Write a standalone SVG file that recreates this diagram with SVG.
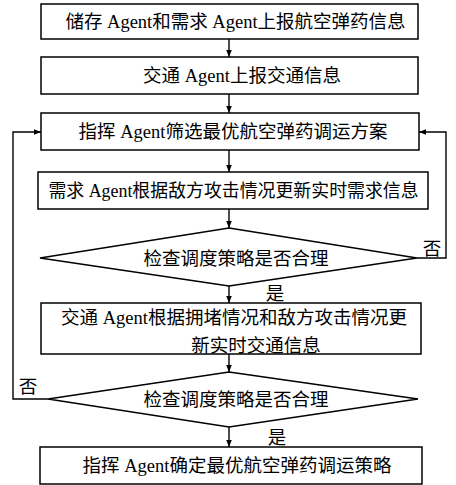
<svg xmlns="http://www.w3.org/2000/svg" width="456" height="485" viewBox="0 0 456 485">
<style>
.b{fill:#fff;stroke:#000;stroke-width:1.5}
.t{font-family:"Liberation Serif","Noto Sans CJK SC",serif;font-size:18.5px;fill:#000;text-anchor:middle}
.c{fill:none;stroke:#000;stroke-width:1.4}
</style>
<defs>
<marker id="ah" viewBox="0 0 10 10" refX="10" refY="5" markerWidth="7" markerHeight="7" markerUnits="userSpaceOnUse" orient="auto">
<path d="M0,1 L10,5 L0,9 Z" fill="#000"/>
</marker>
</defs>
<rect width="456" height="485" fill="#fff"/>
<g id="connectors">
<line class="c" x1="229" y1="39" x2="229" y2="57" marker-end="url(#ah)"/>
<line class="c" x1="229" y1="94" x2="229" y2="113" marker-end="url(#ah)"/>
<line class="c" x1="229" y1="150" x2="229" y2="172" marker-end="url(#ah)"/>
<line class="c" x1="229" y1="209" x2="229" y2="228" marker-end="url(#ah)"/>
<line class="c" x1="229" y1="286" x2="229" y2="303" marker-end="url(#ah)"/>
<line class="c" x1="229" y1="354" x2="229" y2="372" marker-end="url(#ah)"/>
<line class="c" x1="229" y1="427" x2="229" y2="447" marker-end="url(#ah)"/>
<polyline class="c" points="417,258 446,258 446,132 419,132" marker-end="url(#ah)"/>
<polyline class="c" points="48,399 13,399 13,132 41,132" marker-end="url(#ah)"/>
<text class="t" x="432" y="254.5">否</text>
<text class="t" x="275" y="299.5">是</text>
<text class="t" x="28" y="392.5">否</text>
<text class="t" x="277" y="443.5">是</text>
</g>
<g id="n1">
<rect class="b" x="41" y="4" width="377" height="35"/>
<text class="t" x="235.5" y="28">储存 Agent和需求 Agent上报航空弹药信息</text>
</g>
<g id="n2">
<rect class="b" x="41" y="57" width="377" height="37"/>
<text class="t" x="242" y="82">交通 Agent上报交通信息</text>
</g>
<g id="n3">
<rect class="b" x="41" y="113" width="378" height="37"/>
<text class="t" x="233" y="138">指挥 Agent筛选最优航空弹药调运方案</text>
</g>
<g id="n4">
<rect class="b" x="38" y="172" width="390" height="37"/>
<text class="t" x="233.5" y="196.5" style="font-size:17.9px">需求 Agent根据敌方攻击情况更新实时需求信息</text>
</g>
<g id="d1">
<polygon class="b" points="229,228 417,258 229,286 40,258"/>
<text class="t" x="236" y="264.5">检查调度策略是否合理</text>
</g>
<g id="n5">
<rect class="b" x="41" y="303" width="380" height="51"/>
<text class="t" x="234" y="323.5">交通 Agent根据拥堵情况和敌方攻击情况更</text>
<text class="t" x="256" y="351.5">新实时交通信息</text>
</g>
<g id="d2">
<polygon class="b" points="229,372 418,399 229,427 48,399"/>
<text class="t" x="236" y="406">检查调度策略是否合理</text>
</g>
<g id="n6">
<rect class="b" x="40" y="447" width="382" height="37"/>
<text class="t" x="237" y="472">指挥 Agent确定最优航空弹药调运策略</text>
</g>
</svg>
